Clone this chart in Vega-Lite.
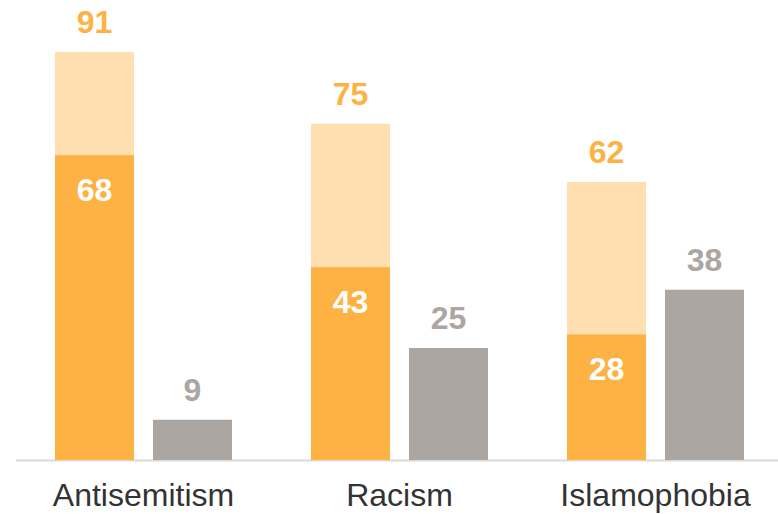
{
  "$schema": "https://vega.github.io/schema/vega-lite/v6.json",
  "width": 762.5,
  "height": 460,
  "autosize": {"type": "none"},
  "padding": {"left": 15.5, "top": 0, "right": 0, "bottom": 54},
  "background": "white",
  "config": {"view": {"stroke": null}, "font": "Liberation Sans"},
  "data": {
    "values": [
      {"category": "Antisemitism", "group": "orange", "layer": "light", "value": 91},
      {"category": "Racism", "group": "orange", "layer": "light", "value": 75},
      {"category": "Islamophobia", "group": "orange", "layer": "light", "value": 62},
      {"category": "Antisemitism", "group": "orange", "layer": "dark", "value": 68},
      {"category": "Racism", "group": "orange", "layer": "dark", "value": 43},
      {"category": "Islamophobia", "group": "orange", "layer": "dark", "value": 28},
      {"category": "Antisemitism", "group": "gray", "layer": "gray", "value": 9},
      {"category": "Racism", "group": "gray", "layer": "gray", "value": 25},
      {"category": "Islamophobia", "group": "gray", "layer": "gray", "value": 38}
    ]
  },
  "encoding": {
    "x": {
      "field": "category", "type": "nominal", "sort": null,
      "scale": {"domain": ["Antisemitism", "Racism", "Islamophobia"], "range": [0, 768], "paddingInner": 0, "paddingOuter": 0},
      "axis": {"title": null, "ticks": false, "labelAngle": 0, "labelFontSize": 32, "labelLimit": 0, "labelColor": "#333333", "labelPadding": 20, "domainColor": "#d9d9d9", "domainWidth": 2, "labelFont": "Liberation Sans"}
    },
    "xOffset": {
      "field": "group", "type": "nominal",
      "scale": {"domain": ["orange", "gray"], "paddingInner": 0.194, "paddingOuter": 0.403}
    },
    "y": {
      "field": "value", "type": "quantitative", "stack": null,
      "scale": {"domain": [0, 102.6], "nice": false, "zero": true},
      "axis": null
    }
  },
  "layer": [
    {
      "mark": {"type": "bar"},
      "encoding": {
        "color": {
          "field": "layer", "type": "nominal", "legend": null,
          "scale": {"domain": ["light", "dark", "gray"], "range": ["#FFDFB0", "#FDB243", "#ABA6A1"]}
        }
      }
    },
    {
      "transform": [{"filter": "datum.layer !== 'dark'"}],
      "mark": {"type": "text", "fontSize": 32, "fontWeight": "bold", "baseline": "middle", "dy": -29},
      "encoding": {
        "text": {"field": "value", "type": "quantitative"},
        "color": {
          "field": "layer", "type": "nominal", "legend": null,
          "scale": {"domain": ["light", "dark", "gray"], "range": ["#FDB243", "#FDB243", "#ABA6A1"]}
        }
      }
    },
    {
      "transform": [{"filter": "datum.layer === 'dark'"}],
      "mark": {"type": "text", "fontSize": 32, "fontWeight": "bold", "baseline": "middle", "dy": 36, "color": "white"},
      "encoding": {
        "text": {"field": "value", "type": "quantitative"}
      }
    }
  ],
  "resolve": {"scale": {"color": "independent"}}
}
